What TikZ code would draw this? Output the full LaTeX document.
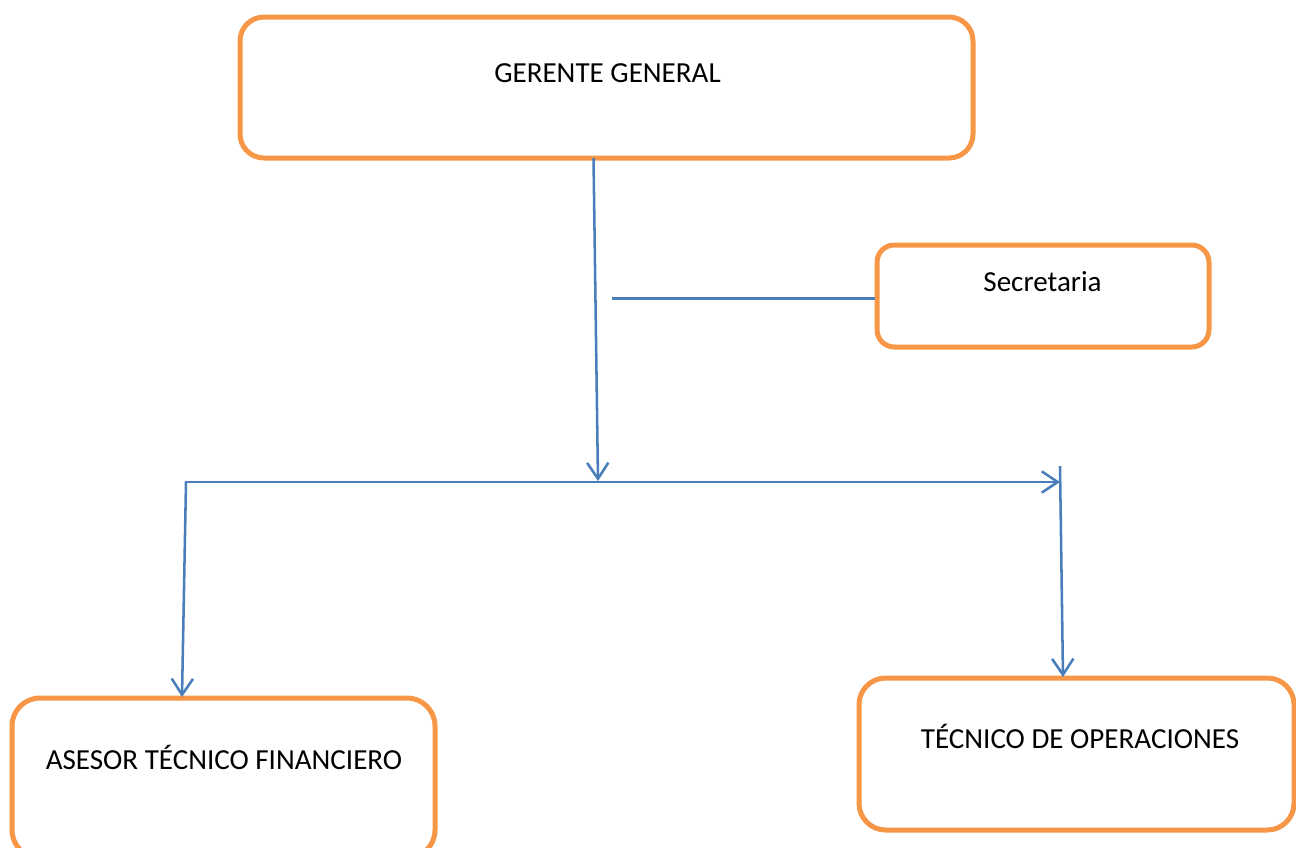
\documentclass[tikz,border=0pt]{standalone}
\usepackage{fontspec}
\setmainfont{Carlito}
\usetikzlibrary{arrows.meta}
\definecolor{boxorange}{HTML}{F79646}
\definecolor{lineblue}{HTML}{4A7EBB}
\begin{document}
\begin{tikzpicture}[x=0.75pt,y=-0.75pt,
  box/.style={draw=boxorange, line width=3.75pt, fill=none, rectangle, inner sep=0pt},
  lbl/.style={anchor=base, inner sep=0pt, font=\fontsize{21.8pt}{26pt}\selectfont},
  conn/.style={draw=lineblue, line width=1.9pt},
  tip/.style={-{Straight Barb[length=12pt,width=16pt,line width=1.9pt]}}]
\useasboundingbox (0,0) rectangle (1296,847);
% boxes
\node[box, rounded corners=18pt, minimum width=549.75pt, minimum height=105.75pt] (g) at (606.5,87.5) {};
\node[box, rounded corners=13pt, minimum width=249pt, minimum height=76.5pt] (s) at (1043,296) {};
\node[box, rounded corners=21pt, minimum width=317.25pt, minimum height=120pt] (a) at (223.5,778) {};
\node[box, rounded corners=20pt, minimum width=326.25pt, minimum height=114pt] (t) at (1076.5,754) {};
% labels
\node[lbl] (gl) at (607.5,82) {GERENTE GENERAL};
\node[lbl] (sl) at (1042.5,291.5) {Secretaria};
\node[lbl] (al) at (224,769) {ASESOR TÉCNICO FINANCIERO};
\node[lbl] (tl) at (1080,748) {TÉCNICO DE OPERACIONES};
% coordinates
\coordinate (gtop) at (593.5,158);
\coordinate (junc) at (598,481);
\coordinate (sfree) at (612,298.5);
\coordinate (hleft) at (186,482);
\coordinate (hright) at (1060,482);
\coordinate (rtop) at (1060,466);
\coordinate (atop) at (182,697);
\coordinate (ttop) at (1063,677);
% connectors
\draw[conn,tip] (gtop) -- (junc);
\draw[conn] (sfree) -- (s.west |- sfree);
\draw[conn,tip,line cap=rect] (hleft) -- (hright);
\draw[conn,tip] (hleft) -- (atop);
\draw[conn,tip] (rtop) -- (ttop);
\end{tikzpicture}
\end{document}
